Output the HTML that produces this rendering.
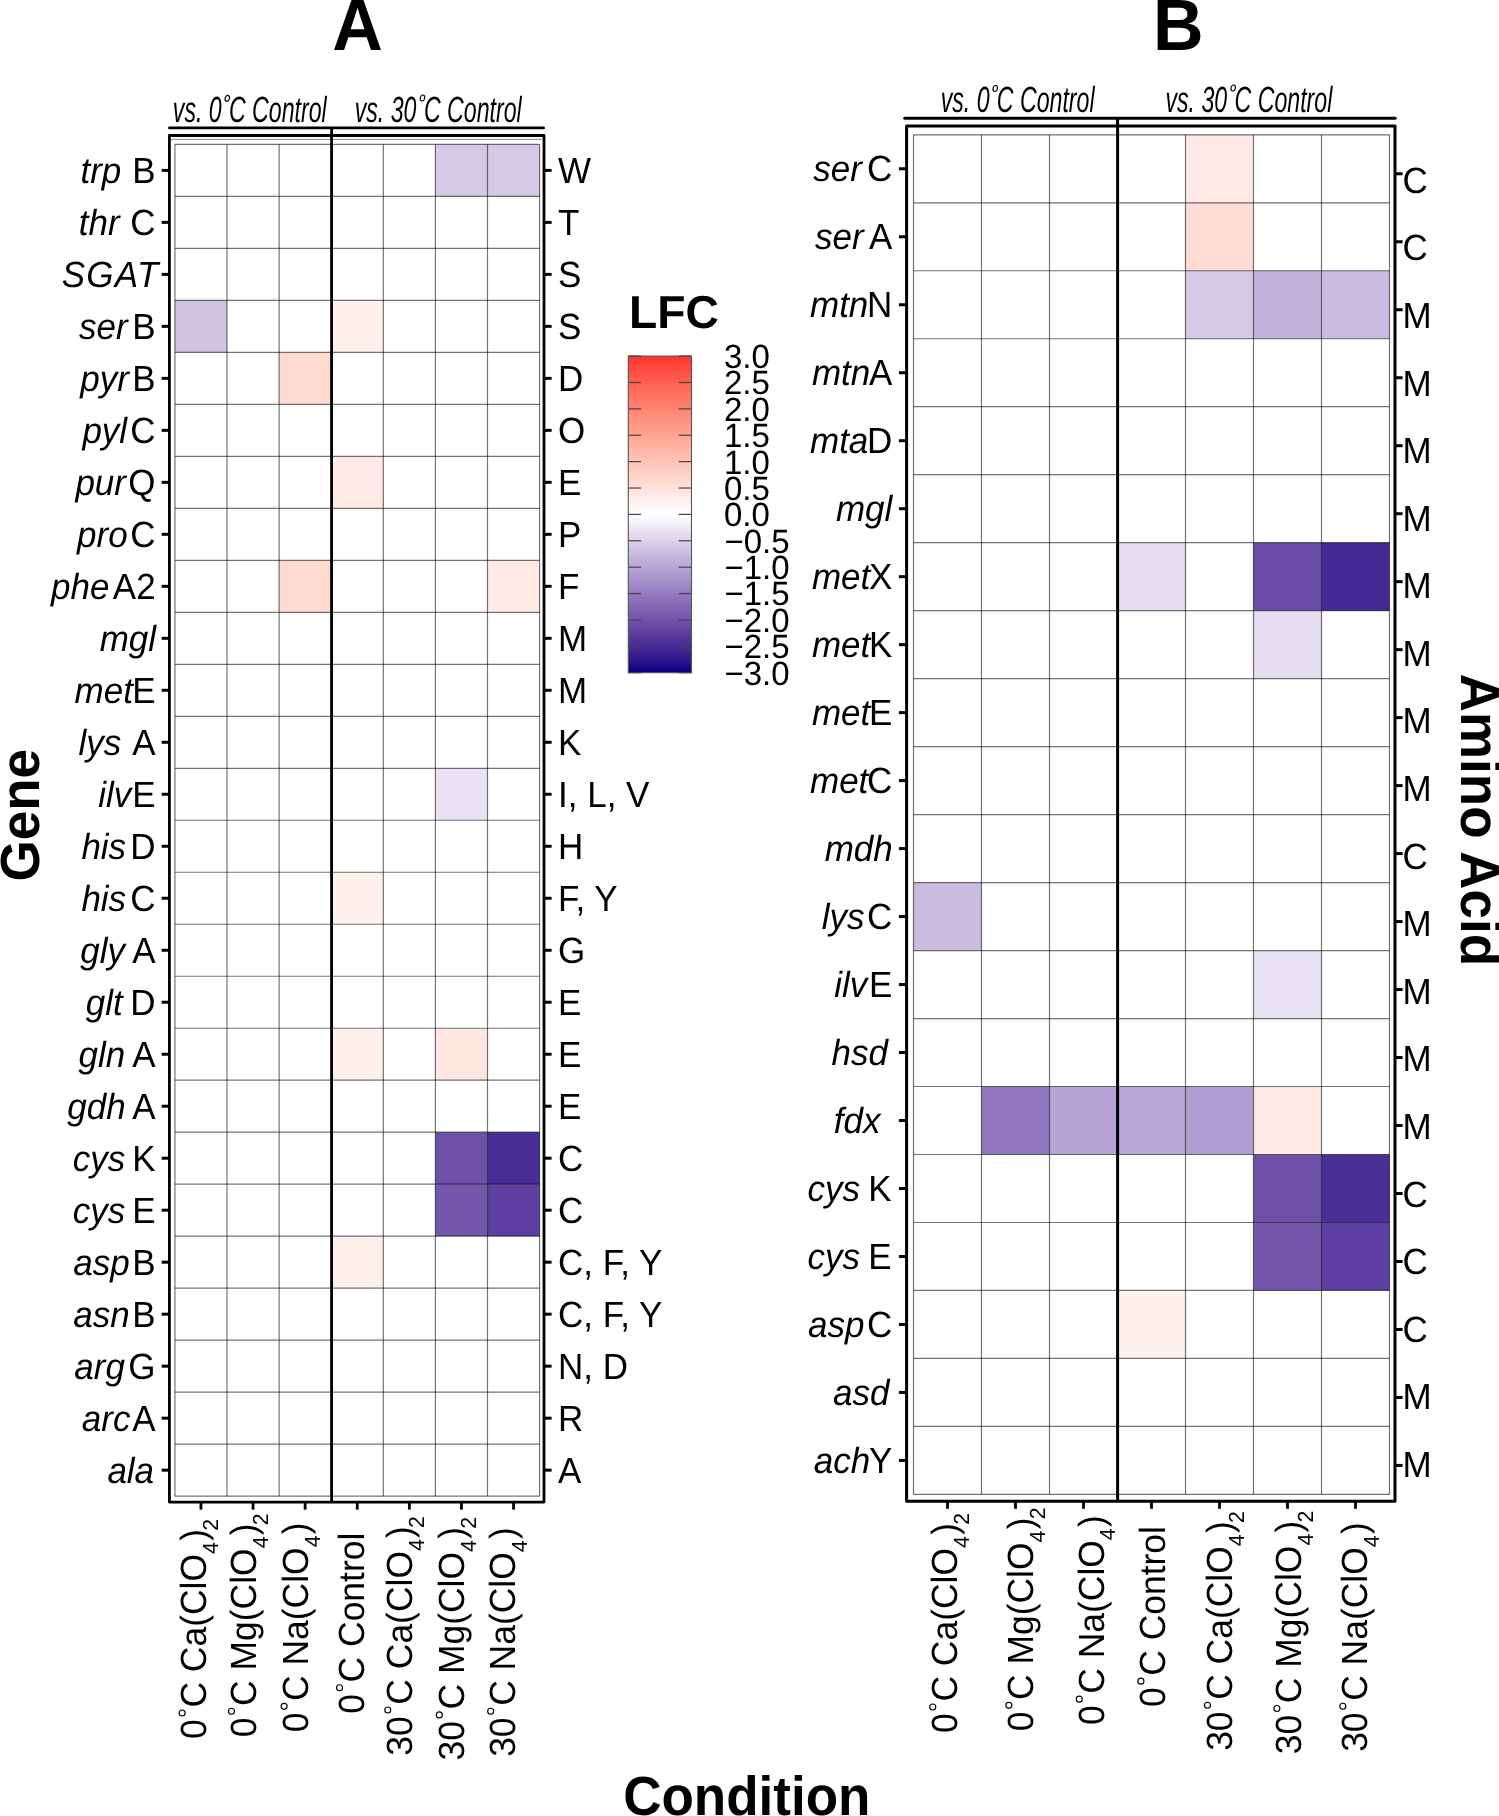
<!DOCTYPE html><html><head><meta charset="utf-8"><style>html,body{margin:0;padding:0;background:#fff;width:1499px;height:1816px;overflow:hidden;}</style></head><body><svg width="1499" height="1816" viewBox="0 0 1499 1816" style="position:absolute;left:0;top:0;will-change:transform;text-rendering:geometricPrecision" font-family='"Liberation Sans", sans-serif'>
<rect width="1499" height="1816" fill="#fff"/>
<rect x="435.40" y="144.40" width="52.10" height="51.99" fill="#d4c9e6"/>
<rect x="487.50" y="144.40" width="52.10" height="51.99" fill="#d4c9e6"/>
<rect x="174.90" y="300.37" width="52.10" height="51.99" fill="#d0c2e3"/>
<rect x="331.20" y="300.37" width="52.10" height="51.99" fill="#fff0ec"/>
<rect x="279.10" y="352.36" width="52.10" height="51.99" fill="#ffdad1"/>
<rect x="331.20" y="456.34" width="52.10" height="51.99" fill="#ffeae5"/>
<rect x="279.10" y="560.32" width="52.10" height="51.99" fill="#ffdad1"/>
<rect x="487.50" y="560.32" width="52.10" height="51.99" fill="#ffeae5"/>
<rect x="435.40" y="768.28" width="52.10" height="51.99" fill="#e8e2f2"/>
<rect x="331.20" y="872.26" width="52.10" height="51.99" fill="#fff1ee"/>
<rect x="331.20" y="1028.23" width="52.10" height="51.99" fill="#fff0ec"/>
<rect x="435.40" y="1028.23" width="52.10" height="51.99" fill="#ffe7e1"/>
<rect x="435.40" y="1132.21" width="52.10" height="51.99" fill="#6d51a9"/>
<rect x="487.50" y="1132.21" width="52.10" height="51.99" fill="#482d96"/>
<rect x="435.40" y="1184.20" width="52.10" height="51.99" fill="#7357ad"/>
<rect x="487.50" y="1184.20" width="52.10" height="51.99" fill="#5c3fa0"/>
<rect x="331.20" y="1236.19" width="52.10" height="51.99" fill="#ffefeb"/>
<path d="M174.90 144.40H539.60M174.90 196.39H539.60M174.90 248.38H539.60M174.90 300.37H539.60M174.90 352.36H539.60M174.90 404.35H539.60M174.90 456.34H539.60M174.90 508.33H539.60M174.90 560.32H539.60M174.90 612.31H539.60M174.90 664.30H539.60M174.90 716.29H539.60M174.90 768.28H539.60M174.90 820.27H539.60M174.90 872.26H539.60M174.90 924.25H539.60M174.90 976.24H539.60M174.90 1028.23H539.60M174.90 1080.22H539.60M174.90 1132.21H539.60M174.90 1184.20H539.60M174.90 1236.19H539.60M174.90 1288.18H539.60M174.90 1340.17H539.60M174.90 1392.16H539.60M174.90 1444.15H539.60M174.90 1496.14H539.60" stroke="#000" stroke-opacity="0.55" stroke-width="1.2" fill="none"/>
<path d="M174.90 144.40V1496.14M227.00 144.40V1496.14M279.10 144.40V1496.14M331.20 144.40V1496.14M383.30 144.40V1496.14M435.40 144.40V1496.14M487.50 144.40V1496.14M539.60 144.40V1496.14" stroke="#000" stroke-opacity="0.55" stroke-width="1.2" fill="none"/>
<line x1="171" y1="139.4" x2="542" y2="139.4" stroke="#8c8c8c" stroke-width="1"/>
<rect x="169.4" y="135.5" width="374.60" height="1366.60" fill="none" stroke="#000" stroke-width="2.8" stroke-linejoin="round"/>
<line x1="169.4" y1="127.9" x2="543.6" y2="127.9" stroke="#000" stroke-width="2.8" stroke-linecap="round"/>
<line x1="331.6" y1="127.9" x2="331.6" y2="1502.1" stroke="#000" stroke-width="2.8"/>
<line x1="161.70" y1="170.40" x2="169.4" y2="170.40" stroke="#000" stroke-width="3.0"/>
<line x1="544.00" y1="170.40" x2="551.60" y2="170.40" stroke="#000" stroke-width="3.0"/>
<line x1="161.70" y1="222.38" x2="169.4" y2="222.38" stroke="#000" stroke-width="3.0"/>
<line x1="544.00" y1="222.38" x2="551.60" y2="222.38" stroke="#000" stroke-width="3.0"/>
<line x1="161.70" y1="274.38" x2="169.4" y2="274.38" stroke="#000" stroke-width="3.0"/>
<line x1="544.00" y1="274.38" x2="551.60" y2="274.38" stroke="#000" stroke-width="3.0"/>
<line x1="161.70" y1="326.37" x2="169.4" y2="326.37" stroke="#000" stroke-width="3.0"/>
<line x1="544.00" y1="326.37" x2="551.60" y2="326.37" stroke="#000" stroke-width="3.0"/>
<line x1="161.70" y1="378.36" x2="169.4" y2="378.36" stroke="#000" stroke-width="3.0"/>
<line x1="544.00" y1="378.36" x2="551.60" y2="378.36" stroke="#000" stroke-width="3.0"/>
<line x1="161.70" y1="430.35" x2="169.4" y2="430.35" stroke="#000" stroke-width="3.0"/>
<line x1="544.00" y1="430.35" x2="551.60" y2="430.35" stroke="#000" stroke-width="3.0"/>
<line x1="161.70" y1="482.34" x2="169.4" y2="482.34" stroke="#000" stroke-width="3.0"/>
<line x1="544.00" y1="482.34" x2="551.60" y2="482.34" stroke="#000" stroke-width="3.0"/>
<line x1="161.70" y1="534.33" x2="169.4" y2="534.33" stroke="#000" stroke-width="3.0"/>
<line x1="544.00" y1="534.33" x2="551.60" y2="534.33" stroke="#000" stroke-width="3.0"/>
<line x1="161.70" y1="586.32" x2="169.4" y2="586.32" stroke="#000" stroke-width="3.0"/>
<line x1="544.00" y1="586.32" x2="551.60" y2="586.32" stroke="#000" stroke-width="3.0"/>
<line x1="161.70" y1="638.31" x2="169.4" y2="638.31" stroke="#000" stroke-width="3.0"/>
<line x1="544.00" y1="638.31" x2="551.60" y2="638.31" stroke="#000" stroke-width="3.0"/>
<line x1="161.70" y1="690.29" x2="169.4" y2="690.29" stroke="#000" stroke-width="3.0"/>
<line x1="544.00" y1="690.29" x2="551.60" y2="690.29" stroke="#000" stroke-width="3.0"/>
<line x1="161.70" y1="742.28" x2="169.4" y2="742.28" stroke="#000" stroke-width="3.0"/>
<line x1="544.00" y1="742.28" x2="551.60" y2="742.28" stroke="#000" stroke-width="3.0"/>
<line x1="161.70" y1="794.27" x2="169.4" y2="794.27" stroke="#000" stroke-width="3.0"/>
<line x1="544.00" y1="794.27" x2="551.60" y2="794.27" stroke="#000" stroke-width="3.0"/>
<line x1="161.70" y1="846.26" x2="169.4" y2="846.26" stroke="#000" stroke-width="3.0"/>
<line x1="544.00" y1="846.26" x2="551.60" y2="846.26" stroke="#000" stroke-width="3.0"/>
<line x1="161.70" y1="898.25" x2="169.4" y2="898.25" stroke="#000" stroke-width="3.0"/>
<line x1="544.00" y1="898.25" x2="551.60" y2="898.25" stroke="#000" stroke-width="3.0"/>
<line x1="161.70" y1="950.25" x2="169.4" y2="950.25" stroke="#000" stroke-width="3.0"/>
<line x1="544.00" y1="950.25" x2="551.60" y2="950.25" stroke="#000" stroke-width="3.0"/>
<line x1="161.70" y1="1002.24" x2="169.4" y2="1002.24" stroke="#000" stroke-width="3.0"/>
<line x1="544.00" y1="1002.24" x2="551.60" y2="1002.24" stroke="#000" stroke-width="3.0"/>
<line x1="161.70" y1="1054.23" x2="169.4" y2="1054.23" stroke="#000" stroke-width="3.0"/>
<line x1="544.00" y1="1054.23" x2="551.60" y2="1054.23" stroke="#000" stroke-width="3.0"/>
<line x1="161.70" y1="1106.22" x2="169.4" y2="1106.22" stroke="#000" stroke-width="3.0"/>
<line x1="544.00" y1="1106.22" x2="551.60" y2="1106.22" stroke="#000" stroke-width="3.0"/>
<line x1="161.70" y1="1158.21" x2="169.4" y2="1158.21" stroke="#000" stroke-width="3.0"/>
<line x1="544.00" y1="1158.21" x2="551.60" y2="1158.21" stroke="#000" stroke-width="3.0"/>
<line x1="161.70" y1="1210.20" x2="169.4" y2="1210.20" stroke="#000" stroke-width="3.0"/>
<line x1="544.00" y1="1210.20" x2="551.60" y2="1210.20" stroke="#000" stroke-width="3.0"/>
<line x1="161.70" y1="1262.19" x2="169.4" y2="1262.19" stroke="#000" stroke-width="3.0"/>
<line x1="544.00" y1="1262.19" x2="551.60" y2="1262.19" stroke="#000" stroke-width="3.0"/>
<line x1="161.70" y1="1314.18" x2="169.4" y2="1314.18" stroke="#000" stroke-width="3.0"/>
<line x1="544.00" y1="1314.18" x2="551.60" y2="1314.18" stroke="#000" stroke-width="3.0"/>
<line x1="161.70" y1="1366.17" x2="169.4" y2="1366.17" stroke="#000" stroke-width="3.0"/>
<line x1="544.00" y1="1366.17" x2="551.60" y2="1366.17" stroke="#000" stroke-width="3.0"/>
<line x1="161.70" y1="1418.16" x2="169.4" y2="1418.16" stroke="#000" stroke-width="3.0"/>
<line x1="544.00" y1="1418.16" x2="551.60" y2="1418.16" stroke="#000" stroke-width="3.0"/>
<line x1="161.70" y1="1470.15" x2="169.4" y2="1470.15" stroke="#000" stroke-width="3.0"/>
<line x1="544.00" y1="1470.15" x2="551.60" y2="1470.15" stroke="#000" stroke-width="3.0"/>
<line x1="200.95" y1="1502.1" x2="200.95" y2="1509.60" stroke="#000" stroke-width="2.8"/>
<line x1="253.05" y1="1502.1" x2="253.05" y2="1509.60" stroke="#000" stroke-width="2.8"/>
<line x1="305.15" y1="1502.1" x2="305.15" y2="1509.60" stroke="#000" stroke-width="2.8"/>
<line x1="357.25" y1="1502.1" x2="357.25" y2="1509.60" stroke="#000" stroke-width="2.8"/>
<line x1="409.35" y1="1502.1" x2="409.35" y2="1509.60" stroke="#000" stroke-width="2.8"/>
<line x1="461.45" y1="1502.1" x2="461.45" y2="1509.60" stroke="#000" stroke-width="2.8"/>
<line x1="513.55" y1="1502.1" x2="513.55" y2="1509.60" stroke="#000" stroke-width="2.8"/>
<text transform="translate(155.60,182.92) scale(1,1.04)" font-size="35.0" text-anchor="end"><tspan font-style="italic">trp</tspan><tspan dx="10.9">B</tspan></text>
<text transform="translate(155.60,234.91) scale(1,1.04)" font-size="35.0" text-anchor="end"><tspan font-style="italic">thr</tspan><tspan dx="10.7">C</tspan></text>
<text transform="translate(159.60,286.90) scale(1,1.04)" font-size="35.0" text-anchor="end"><tspan font-style="italic" letter-spacing="1.3">SGAT</tspan></text>
<text transform="translate(155.60,338.89) scale(1,1.04)" font-size="35.0" text-anchor="end"><tspan font-style="italic">ser</tspan><tspan dx="4.6">B</tspan></text>
<text transform="translate(155.60,390.88) scale(1,1.04)" font-size="35.0" text-anchor="end"><tspan font-style="italic">pyr</tspan><tspan dx="3.3">B</tspan></text>
<text transform="translate(155.60,442.87) scale(1,1.04)" font-size="35.0" text-anchor="end"><tspan font-style="italic">pyl</tspan><tspan dx="3.2">C</tspan></text>
<text transform="translate(155.60,494.86) scale(1,1.04)" font-size="35.0" text-anchor="end"><tspan font-style="italic">pur</tspan><tspan dx="2.4">Q</tspan></text>
<text transform="translate(155.60,546.85) scale(1,1.04)" font-size="35.0" text-anchor="end"><tspan font-style="italic">pro</tspan><tspan dx="2.7">C</tspan></text>
<text transform="translate(155.60,598.84) scale(1,1.04)" font-size="35.0" text-anchor="end"><tspan font-style="italic">phe</tspan><tspan dx="3.4">A2</tspan></text>
<text transform="translate(156.10,650.83) scale(1,1.04)" font-size="35.0" text-anchor="end"><tspan font-style="italic">mgl</tspan></text>
<text transform="translate(155.60,702.82) scale(1,1.04)" font-size="35.0" text-anchor="end"><tspan font-style="italic">met</tspan><tspan dx="-0.7">E</tspan></text>
<text transform="translate(155.60,754.81) scale(1,1.04)" font-size="35.0" text-anchor="end"><tspan font-style="italic">lys</tspan><tspan dx="11.0">A</tspan></text>
<text transform="translate(155.60,806.80) scale(1,1.04)" font-size="35.0" text-anchor="end"><tspan font-style="italic">ilv</tspan><tspan dx="0.9">E</tspan></text>
<text transform="translate(155.60,858.79) scale(1,1.04)" font-size="35.0" text-anchor="end"><tspan font-style="italic">his</tspan><tspan dx="4.2">D</tspan></text>
<text transform="translate(155.60,910.78) scale(1,1.04)" font-size="35.0" text-anchor="end"><tspan font-style="italic">his</tspan><tspan dx="4.2">C</tspan></text>
<text transform="translate(155.60,962.77) scale(1,1.04)" font-size="35.0" text-anchor="end"><tspan font-style="italic">gly</tspan><tspan dx="7.3">A</tspan></text>
<text transform="translate(155.60,1014.76) scale(1,1.04)" font-size="35.0" text-anchor="end"><tspan font-style="italic">glt</tspan><tspan dx="7.5">D</tspan></text>
<text transform="translate(155.60,1066.75) scale(1,1.04)" font-size="35.0" text-anchor="end"><tspan font-style="italic">gln</tspan><tspan dx="7.0">A</tspan></text>
<text transform="translate(155.60,1118.74) scale(1,1.04)" font-size="35.0" text-anchor="end"><tspan font-style="italic">gdh</tspan><tspan dx="6.5">A</tspan></text>
<text transform="translate(155.60,1170.73) scale(1,1.04)" font-size="35.0" text-anchor="end"><tspan font-style="italic">cys</tspan><tspan dx="7.1">K</tspan></text>
<text transform="translate(155.60,1222.72) scale(1,1.04)" font-size="35.0" text-anchor="end"><tspan font-style="italic">cys</tspan><tspan dx="7.1">E</tspan></text>
<text transform="translate(155.60,1274.71) scale(1,1.04)" font-size="35.0" text-anchor="end"><tspan font-style="italic">asp</tspan><tspan dx="2.6">B</tspan></text>
<text transform="translate(155.60,1326.70) scale(1,1.04)" font-size="35.0" text-anchor="end"><tspan font-style="italic">asn</tspan><tspan dx="2.6">B</tspan></text>
<text transform="translate(155.60,1378.69) scale(1,1.04)" font-size="35.0" text-anchor="end"><tspan font-style="italic">arg</tspan><tspan dx="3.5">G</tspan></text>
<text transform="translate(155.60,1430.68) scale(1,1.04)" font-size="35.0" text-anchor="end"><tspan font-style="italic">arc</tspan><tspan dx="1.8">A</tspan></text>
<text transform="translate(154.10,1482.67) scale(1,1.04)" font-size="35.0" text-anchor="end"><tspan font-style="italic">ala</tspan></text>
<text transform="translate(558.00,182.92) scale(1,1.04)" font-size="35.0">W</text>
<text transform="translate(558.00,234.91) scale(1,1.04)" font-size="35.0">T</text>
<text transform="translate(558.00,286.90) scale(1,1.04)" font-size="35.0">S</text>
<text transform="translate(558.00,338.89) scale(1,1.04)" font-size="35.0">S</text>
<text transform="translate(558.00,390.88) scale(1,1.04)" font-size="35.0">D</text>
<text transform="translate(558.00,442.87) scale(1,1.04)" font-size="35.0">O</text>
<text transform="translate(558.00,494.86) scale(1,1.04)" font-size="35.0">E</text>
<text transform="translate(558.00,546.85) scale(1,1.04)" font-size="35.0">P</text>
<text transform="translate(558.00,598.84) scale(1,1.04)" font-size="35.0">F</text>
<text transform="translate(558.00,650.83) scale(1,1.04)" font-size="35.0">M</text>
<text transform="translate(558.00,702.82) scale(1,1.04)" font-size="35.0">M</text>
<text transform="translate(558.00,754.81) scale(1,1.04)" font-size="35.0">K</text>
<text transform="translate(558.00,806.80) scale(1,1.04)" font-size="35.0">I, L, V</text>
<text transform="translate(558.00,858.79) scale(1,1.04)" font-size="35.0">H</text>
<text transform="translate(558.00,910.78) scale(1,1.04)" font-size="35.0">F, Y</text>
<text transform="translate(558.00,962.77) scale(1,1.04)" font-size="35.0">G</text>
<text transform="translate(558.00,1014.76) scale(1,1.04)" font-size="35.0">E</text>
<text transform="translate(558.00,1066.75) scale(1,1.04)" font-size="35.0">E</text>
<text transform="translate(558.00,1118.74) scale(1,1.04)" font-size="35.0">E</text>
<text transform="translate(558.00,1170.73) scale(1,1.04)" font-size="35.0">C</text>
<text transform="translate(558.00,1222.72) scale(1,1.04)" font-size="35.0">C</text>
<text transform="translate(558.00,1274.71) scale(1,1.04)" font-size="35.0">C, F, Y</text>
<text transform="translate(558.00,1326.70) scale(1,1.04)" font-size="35.0">C, F, Y</text>
<text transform="translate(558.00,1378.69) scale(1,1.04)" font-size="35.0">N, D</text>
<text transform="translate(558.00,1430.68) scale(1,1.04)" font-size="35.0">R</text>
<text transform="translate(558.00,1482.67) scale(1,1.04)" font-size="35.0">A</text>
<rect x="1185.50" y="134.80" width="68.00" height="67.98" fill="#ffeae5"/>
<rect x="1185.50" y="202.78" width="68.00" height="67.98" fill="#ffdcd4"/>
<rect x="1185.50" y="270.76" width="68.00" height="67.98" fill="#d4c9e6"/>
<rect x="1253.50" y="270.76" width="68.00" height="67.98" fill="#c1b1db"/>
<rect x="1321.50" y="270.76" width="68.00" height="67.98" fill="#cabbe0"/>
<rect x="1117.50" y="542.68" width="68.00" height="67.98" fill="#e5ddf0"/>
<rect x="1253.50" y="542.68" width="68.00" height="67.98" fill="#6a4da8"/>
<rect x="1321.50" y="542.68" width="68.00" height="67.98" fill="#442994"/>
<rect x="1253.50" y="610.66" width="68.00" height="67.98" fill="#e5ddf0"/>
<rect x="913.50" y="882.58" width="68.00" height="67.98" fill="#cabbe0"/>
<rect x="1253.50" y="950.56" width="68.00" height="67.98" fill="#e8e1f1"/>
<rect x="981.50" y="1086.52" width="68.00" height="67.98" fill="#9177be"/>
<rect x="1049.50" y="1086.52" width="68.00" height="67.98" fill="#b6a3d4"/>
<rect x="1117.50" y="1086.52" width="68.00" height="67.98" fill="#b8a6d5"/>
<rect x="1185.50" y="1086.52" width="68.00" height="67.98" fill="#b19dd1"/>
<rect x="1253.50" y="1086.52" width="68.00" height="67.98" fill="#ffeae5"/>
<rect x="1253.50" y="1154.50" width="68.00" height="67.98" fill="#6d51a9"/>
<rect x="1321.50" y="1154.50" width="68.00" height="67.98" fill="#4a2f97"/>
<rect x="1253.50" y="1222.48" width="68.00" height="67.98" fill="#7357ad"/>
<rect x="1321.50" y="1222.48" width="68.00" height="67.98" fill="#5c3fa0"/>
<rect x="1117.50" y="1290.46" width="68.00" height="67.98" fill="#fff1ee"/>
<path d="M913.50 134.80H1389.50M913.50 202.78H1389.50M913.50 270.76H1389.50M913.50 338.74H1389.50M913.50 406.72H1389.50M913.50 474.70H1389.50M913.50 542.68H1389.50M913.50 610.66H1389.50M913.50 678.64H1389.50M913.50 746.62H1389.50M913.50 814.60H1389.50M913.50 882.58H1389.50M913.50 950.56H1389.50M913.50 1018.54H1389.50M913.50 1086.52H1389.50M913.50 1154.50H1389.50M913.50 1222.48H1389.50M913.50 1290.46H1389.50M913.50 1358.44H1389.50M913.50 1426.42H1389.50M913.50 1494.40H1389.50" stroke="#000" stroke-opacity="0.55" stroke-width="1.2" fill="none"/>
<path d="M913.50 134.80V1494.40M981.50 134.80V1494.40M1049.50 134.80V1494.40M1117.50 134.80V1494.40M1185.50 134.80V1494.40M1253.50 134.80V1494.40M1321.50 134.80V1494.40M1389.50 134.80V1494.40" stroke="#000" stroke-opacity="0.55" stroke-width="1.2" fill="none"/>
<rect x="906.6" y="125.9" width="488.40" height="1375.40" fill="none" stroke="#000" stroke-width="3.0" stroke-linejoin="round"/>
<line x1="904.8" y1="118.2" x2="1395.2" y2="118.2" stroke="#000" stroke-width="3.0" stroke-linecap="round"/>
<line x1="1117.6" y1="118.2" x2="1117.6" y2="1501.3" stroke="#000" stroke-width="3.0"/>
<line x1="898.90" y1="168.79" x2="906.6" y2="168.79" stroke="#000" stroke-width="3.0"/>
<line x1="1395.00" y1="173.79" x2="1402.60" y2="173.79" stroke="#000" stroke-width="3.0"/>
<line x1="898.90" y1="236.77" x2="906.6" y2="236.77" stroke="#000" stroke-width="3.0"/>
<line x1="1395.00" y1="241.77" x2="1402.60" y2="241.77" stroke="#000" stroke-width="3.0"/>
<line x1="898.90" y1="304.75" x2="906.6" y2="304.75" stroke="#000" stroke-width="3.0"/>
<line x1="1395.00" y1="309.75" x2="1402.60" y2="309.75" stroke="#000" stroke-width="3.0"/>
<line x1="898.90" y1="372.73" x2="906.6" y2="372.73" stroke="#000" stroke-width="3.0"/>
<line x1="1395.00" y1="377.73" x2="1402.60" y2="377.73" stroke="#000" stroke-width="3.0"/>
<line x1="898.90" y1="440.71" x2="906.6" y2="440.71" stroke="#000" stroke-width="3.0"/>
<line x1="1395.00" y1="445.71" x2="1402.60" y2="445.71" stroke="#000" stroke-width="3.0"/>
<line x1="898.90" y1="508.69" x2="906.6" y2="508.69" stroke="#000" stroke-width="3.0"/>
<line x1="1395.00" y1="513.69" x2="1402.60" y2="513.69" stroke="#000" stroke-width="3.0"/>
<line x1="898.90" y1="576.67" x2="906.6" y2="576.67" stroke="#000" stroke-width="3.0"/>
<line x1="1395.00" y1="581.67" x2="1402.60" y2="581.67" stroke="#000" stroke-width="3.0"/>
<line x1="898.90" y1="644.65" x2="906.6" y2="644.65" stroke="#000" stroke-width="3.0"/>
<line x1="1395.00" y1="649.65" x2="1402.60" y2="649.65" stroke="#000" stroke-width="3.0"/>
<line x1="898.90" y1="712.63" x2="906.6" y2="712.63" stroke="#000" stroke-width="3.0"/>
<line x1="1395.00" y1="717.63" x2="1402.60" y2="717.63" stroke="#000" stroke-width="3.0"/>
<line x1="898.90" y1="780.61" x2="906.6" y2="780.61" stroke="#000" stroke-width="3.0"/>
<line x1="1395.00" y1="785.61" x2="1402.60" y2="785.61" stroke="#000" stroke-width="3.0"/>
<line x1="898.90" y1="848.59" x2="906.6" y2="848.59" stroke="#000" stroke-width="3.0"/>
<line x1="1395.00" y1="853.59" x2="1402.60" y2="853.59" stroke="#000" stroke-width="3.0"/>
<line x1="898.90" y1="916.57" x2="906.6" y2="916.57" stroke="#000" stroke-width="3.0"/>
<line x1="1395.00" y1="921.57" x2="1402.60" y2="921.57" stroke="#000" stroke-width="3.0"/>
<line x1="898.90" y1="984.55" x2="906.6" y2="984.55" stroke="#000" stroke-width="3.0"/>
<line x1="1395.00" y1="989.55" x2="1402.60" y2="989.55" stroke="#000" stroke-width="3.0"/>
<line x1="898.90" y1="1052.53" x2="906.6" y2="1052.53" stroke="#000" stroke-width="3.0"/>
<line x1="1395.00" y1="1057.53" x2="1402.60" y2="1057.53" stroke="#000" stroke-width="3.0"/>
<line x1="898.90" y1="1120.51" x2="906.6" y2="1120.51" stroke="#000" stroke-width="3.0"/>
<line x1="1395.00" y1="1125.51" x2="1402.60" y2="1125.51" stroke="#000" stroke-width="3.0"/>
<line x1="898.90" y1="1188.49" x2="906.6" y2="1188.49" stroke="#000" stroke-width="3.0"/>
<line x1="1395.00" y1="1193.49" x2="1402.60" y2="1193.49" stroke="#000" stroke-width="3.0"/>
<line x1="898.90" y1="1256.47" x2="906.6" y2="1256.47" stroke="#000" stroke-width="3.0"/>
<line x1="1395.00" y1="1261.47" x2="1402.60" y2="1261.47" stroke="#000" stroke-width="3.0"/>
<line x1="898.90" y1="1324.45" x2="906.6" y2="1324.45" stroke="#000" stroke-width="3.0"/>
<line x1="1395.00" y1="1329.45" x2="1402.60" y2="1329.45" stroke="#000" stroke-width="3.0"/>
<line x1="898.90" y1="1392.43" x2="906.6" y2="1392.43" stroke="#000" stroke-width="3.0"/>
<line x1="1395.00" y1="1397.43" x2="1402.60" y2="1397.43" stroke="#000" stroke-width="3.0"/>
<line x1="898.90" y1="1460.41" x2="906.6" y2="1460.41" stroke="#000" stroke-width="3.0"/>
<line x1="1395.00" y1="1465.41" x2="1402.60" y2="1465.41" stroke="#000" stroke-width="3.0"/>
<line x1="947.50" y1="1501.3" x2="947.50" y2="1508.80" stroke="#000" stroke-width="2.8"/>
<line x1="1015.50" y1="1501.3" x2="1015.50" y2="1508.80" stroke="#000" stroke-width="2.8"/>
<line x1="1083.50" y1="1501.3" x2="1083.50" y2="1508.80" stroke="#000" stroke-width="2.8"/>
<line x1="1151.50" y1="1501.3" x2="1151.50" y2="1508.80" stroke="#000" stroke-width="2.8"/>
<line x1="1219.50" y1="1501.3" x2="1219.50" y2="1508.80" stroke="#000" stroke-width="2.8"/>
<line x1="1287.50" y1="1501.3" x2="1287.50" y2="1508.80" stroke="#000" stroke-width="2.8"/>
<line x1="1355.50" y1="1501.3" x2="1355.50" y2="1508.80" stroke="#000" stroke-width="2.8"/>
<text transform="translate(892.30,181.31) scale(1,1.04)" font-size="35.0" text-anchor="end"><tspan font-style="italic">ser</tspan><tspan dx="5.1">C</tspan></text>
<text transform="translate(892.30,249.29) scale(1,1.04)" font-size="35.0" text-anchor="end"><tspan font-style="italic">ser</tspan><tspan dx="5.3">A</tspan></text>
<text transform="translate(892.30,317.27) scale(1,1.04)" font-size="35.0" text-anchor="end"><tspan font-style="italic">mtn</tspan><tspan dx="-1.3">N</tspan></text>
<text transform="translate(892.30,385.25) scale(1,1.04)" font-size="35.0" text-anchor="end"><tspan font-style="italic">mtn</tspan><tspan dx="-1.3">A</tspan></text>
<text transform="translate(892.30,453.23) scale(1,1.04)" font-size="35.0" text-anchor="end"><tspan font-style="italic">mta</tspan><tspan dx="-1.3">D</tspan></text>
<text transform="translate(892.30,521.21) scale(1,1.04)" font-size="35.0" text-anchor="end"><tspan font-style="italic">mgl</tspan></text>
<text transform="translate(892.30,589.19) scale(1,1.04)" font-size="35.0" text-anchor="end"><tspan font-style="italic">met</tspan><tspan dx="-1.3">X</tspan></text>
<text transform="translate(892.30,657.17) scale(1,1.04)" font-size="35.0" text-anchor="end"><tspan font-style="italic">met</tspan><tspan dx="-1.3">K</tspan></text>
<text transform="translate(892.30,725.15) scale(1,1.04)" font-size="35.0" text-anchor="end"><tspan font-style="italic">met</tspan><tspan dx="-1.3">E</tspan></text>
<text transform="translate(892.30,793.13) scale(1,1.04)" font-size="35.0" text-anchor="end"><tspan font-style="italic">met</tspan><tspan dx="-1.3">C</tspan></text>
<text transform="translate(892.80,861.11) scale(1,1.04)" font-size="35.0" text-anchor="end"><tspan font-style="italic">mdh</tspan></text>
<text transform="translate(892.30,929.09) scale(1,1.04)" font-size="35.0" text-anchor="end"><tspan font-style="italic">lys</tspan><tspan dx="2.5">C</tspan></text>
<text transform="translate(892.30,997.07) scale(1,1.04)" font-size="35.0" text-anchor="end"><tspan font-style="italic">ilv</tspan><tspan dx="1.6">E</tspan></text>
<text transform="translate(888.00,1065.05) scale(1,1.04)" font-size="35.0" text-anchor="end"><tspan font-style="italic">hsd</tspan></text>
<text transform="translate(880.50,1133.03) scale(1,1.04)" font-size="35.0" text-anchor="end"><tspan font-style="italic">fdx</tspan></text>
<text transform="translate(891.50,1201.01) scale(1,1.04)" font-size="35.0" text-anchor="end"><tspan font-style="italic">cys</tspan><tspan dx="8.2">K</tspan></text>
<text transform="translate(891.50,1268.99) scale(1,1.04)" font-size="35.0" text-anchor="end"><tspan font-style="italic">cys</tspan><tspan dx="8.2">E</tspan></text>
<text transform="translate(892.30,1336.97) scale(1,1.04)" font-size="35.0" text-anchor="end"><tspan font-style="italic">asp</tspan><tspan dx="2.6">C</tspan></text>
<text transform="translate(889.50,1404.95) scale(1,1.04)" font-size="35.0" text-anchor="end"><tspan font-style="italic">asd</tspan></text>
<text transform="translate(892.30,1472.93) scale(1,1.04)" font-size="35.0" text-anchor="end"><tspan font-style="italic">ach</tspan><tspan dx="-1.3">Y</tspan></text>
<text transform="translate(1402.40,192.72) scale(1,1.04)" font-size="35.0">C</text>
<text transform="translate(1402.40,260.32) scale(1,1.04)" font-size="35.0">C</text>
<text transform="translate(1402.40,327.91) scale(1,1.04)" font-size="35.0">M</text>
<text transform="translate(1402.40,395.51) scale(1,1.04)" font-size="35.0">M</text>
<text transform="translate(1402.40,463.10) scale(1,1.04)" font-size="35.0">M</text>
<text transform="translate(1402.40,530.70) scale(1,1.04)" font-size="35.0">M</text>
<text transform="translate(1402.40,598.29) scale(1,1.04)" font-size="35.0">M</text>
<text transform="translate(1402.40,665.88) scale(1,1.04)" font-size="35.0">M</text>
<text transform="translate(1402.40,733.48) scale(1,1.04)" font-size="35.0">M</text>
<text transform="translate(1402.40,801.07) scale(1,1.04)" font-size="35.0">M</text>
<text transform="translate(1402.40,868.67) scale(1,1.04)" font-size="35.0">C</text>
<text transform="translate(1402.40,936.26) scale(1,1.04)" font-size="35.0">M</text>
<text transform="translate(1402.40,1003.86) scale(1,1.04)" font-size="35.0">M</text>
<text transform="translate(1402.40,1071.45) scale(1,1.04)" font-size="35.0">M</text>
<text transform="translate(1402.40,1139.05) scale(1,1.04)" font-size="35.0">M</text>
<text transform="translate(1402.40,1206.64) scale(1,1.04)" font-size="35.0">C</text>
<text transform="translate(1402.40,1274.24) scale(1,1.04)" font-size="35.0">C</text>
<text transform="translate(1402.40,1341.83) scale(1,1.04)" font-size="35.0">C</text>
<text transform="translate(1402.40,1409.43) scale(1,1.04)" font-size="35.0">M</text>
<text transform="translate(1402.40,1477.02) scale(1,1.04)" font-size="35.0">M</text>
<text transform="translate(172.83,122.3) scale(0.661,1.04)" font-size="35.0" font-style="italic">vs. 0</text>
<text transform="translate(228.92,122.3) scale(0.661,1.04)" font-size="35.0" font-style="italic">C Control</text>
<ellipse cx="0" cy="0" rx="2.15" ry="3.05" transform="translate(227.30,98.40) rotate(15)" fill="none" stroke="#000" stroke-width="1.15"/>
<text transform="translate(354.73,122.0) scale(0.661,1.04)" font-size="35.0" font-style="italic">vs. 30</text>
<text transform="translate(423.92,122.0) scale(0.661,1.04)" font-size="35.0" font-style="italic">C Control</text>
<ellipse cx="0" cy="0" rx="2.15" ry="3.05" transform="translate(422.50,98.00) rotate(15)" fill="none" stroke="#000" stroke-width="1.15"/>
<text transform="translate(940.73,112.4) scale(0.661,1.04)" font-size="35.0" font-style="italic">vs. 0</text>
<text transform="translate(996.82,112.4) scale(0.661,1.04)" font-size="35.0" font-style="italic">C Control</text>
<ellipse cx="0" cy="0" rx="2.15" ry="3.05" transform="translate(995.20,88.50) rotate(15)" fill="none" stroke="#000" stroke-width="1.15"/>
<text transform="translate(1165.43,112.0) scale(0.661,1.04)" font-size="35.0" font-style="italic">vs. 30</text>
<text transform="translate(1234.62,112.0) scale(0.661,1.04)" font-size="35.0" font-style="italic">C Control</text>
<ellipse cx="0" cy="0" rx="2.15" ry="3.05" transform="translate(1233.20,88.00) rotate(15)" fill="none" stroke="#000" stroke-width="1.15"/>
<text transform="translate(357.50,50.00) scale(1,1.04)" font-size="70" text-anchor="middle" font-weight="bold">A</text>
<text transform="translate(1178.20,50.00) scale(1,1.04)" font-size="70" text-anchor="middle" font-weight="bold">B</text>
<text transform="translate(39.00,815.20) rotate(-90) scale(1,1.04)" font-size="53" text-anchor="middle" font-weight="bold">Gene</text>
<text transform="translate(1461.10,819.90) rotate(90) scale(1,1.04)" font-size="53" text-anchor="middle" font-weight="bold">Amino Acid</text>
<text transform="translate(746.80,1814.70) scale(1,1.04)" font-size="53" text-anchor="middle" font-weight="bold">Condition</text>
<text transform="translate(629.00,328.30) scale(1,1.0)" font-size="46.2" font-weight="bold">LFC</text>
<defs><linearGradient id="lg" x1="0" y1="0" x2="0" y2="1">
<stop offset="0.0000" stop-color="#ff3030"/>
<stop offset="0.0167" stop-color="#ff3c36"/>
<stop offset="0.0333" stop-color="#ff463d"/>
<stop offset="0.0500" stop-color="#ff4f43"/>
<stop offset="0.0667" stop-color="#ff584a"/>
<stop offset="0.0833" stop-color="#ff6050"/>
<stop offset="0.1000" stop-color="#ff6856"/>
<stop offset="0.1167" stop-color="#ff6f5d"/>
<stop offset="0.1333" stop-color="#ff7664"/>
<stop offset="0.1500" stop-color="#ff7d6a"/>
<stop offset="0.1667" stop-color="#ff8471"/>
<stop offset="0.1833" stop-color="#ff8b78"/>
<stop offset="0.2000" stop-color="#ff917e"/>
<stop offset="0.2167" stop-color="#ff9885"/>
<stop offset="0.2333" stop-color="#ff9e8c"/>
<stop offset="0.2500" stop-color="#ffa493"/>
<stop offset="0.2667" stop-color="#ffaa9a"/>
<stop offset="0.2833" stop-color="#ffb1a1"/>
<stop offset="0.3000" stop-color="#ffb7a8"/>
<stop offset="0.3167" stop-color="#ffbdaf"/>
<stop offset="0.3333" stop-color="#ffc3b6"/>
<stop offset="0.3500" stop-color="#ffc9bd"/>
<stop offset="0.3667" stop-color="#ffcfc4"/>
<stop offset="0.3833" stop-color="#ffd5cb"/>
<stop offset="0.4000" stop-color="#ffdbd3"/>
<stop offset="0.4167" stop-color="#ffe1da"/>
<stop offset="0.4333" stop-color="#ffe7e1"/>
<stop offset="0.4500" stop-color="#ffede9"/>
<stop offset="0.4667" stop-color="#fff3f0"/>
<stop offset="0.4833" stop-color="#fff9f8"/>
<stop offset="0.5000" stop-color="#ffffff"/>
<stop offset="0.5167" stop-color="#f8f6fb"/>
<stop offset="0.5333" stop-color="#f1edf7"/>
<stop offset="0.5500" stop-color="#eae4f2"/>
<stop offset="0.5667" stop-color="#e3dbee"/>
<stop offset="0.5833" stop-color="#dcd2ea"/>
<stop offset="0.6000" stop-color="#d4c9e6"/>
<stop offset="0.6167" stop-color="#cdc0e2"/>
<stop offset="0.6333" stop-color="#c6b7dd"/>
<stop offset="0.6500" stop-color="#bfaed9"/>
<stop offset="0.6667" stop-color="#b8a6d5"/>
<stop offset="0.6833" stop-color="#b19dd1"/>
<stop offset="0.7000" stop-color="#aa95cd"/>
<stop offset="0.7167" stop-color="#a38cc8"/>
<stop offset="0.7333" stop-color="#9b84c4"/>
<stop offset="0.7500" stop-color="#947bc0"/>
<stop offset="0.7667" stop-color="#8d73bc"/>
<stop offset="0.7833" stop-color="#866bb7"/>
<stop offset="0.8000" stop-color="#7e63b3"/>
<stop offset="0.8167" stop-color="#775baf"/>
<stop offset="0.8333" stop-color="#6f53ab"/>
<stop offset="0.8500" stop-color="#674ba6"/>
<stop offset="0.8667" stop-color="#6043a2"/>
<stop offset="0.8833" stop-color="#573b9e"/>
<stop offset="0.9000" stop-color="#4f339a"/>
<stop offset="0.9167" stop-color="#462c95"/>
<stop offset="0.9333" stop-color="#3d2491"/>
<stop offset="0.9500" stop-color="#331b8d"/>
<stop offset="0.9667" stop-color="#281389"/>
<stop offset="0.9833" stop-color="#190984"/>
<stop offset="1.0000" stop-color="#000080"/>
</linearGradient></defs>
<rect x="628.3" y="356.1" width="63.20" height="316.60" fill="url(#lg)" stroke="#555" stroke-width="1.1"/>
<line x1="628.3" y1="356.10" x2="641.0999999999999" y2="356.10" stroke="#444" stroke-width="1.2"/>
<line x1="678.7" y1="356.10" x2="691.5" y2="356.10" stroke="#444" stroke-width="1.2"/>
<text transform="translate(723.91,368.02) scale(1,1.02)" font-size="33.0">3.0</text>
<line x1="628.3" y1="382.48" x2="641.0999999999999" y2="382.48" stroke="#444" stroke-width="1.2"/>
<line x1="678.7" y1="382.48" x2="691.5" y2="382.48" stroke="#444" stroke-width="1.2"/>
<text transform="translate(723.91,394.40) scale(1,1.02)" font-size="33.0">2.5</text>
<line x1="628.3" y1="408.87" x2="641.0999999999999" y2="408.87" stroke="#444" stroke-width="1.2"/>
<line x1="678.7" y1="408.87" x2="691.5" y2="408.87" stroke="#444" stroke-width="1.2"/>
<text transform="translate(723.91,420.78) scale(1,1.02)" font-size="33.0">2.0</text>
<line x1="628.3" y1="435.25" x2="641.0999999999999" y2="435.25" stroke="#444" stroke-width="1.2"/>
<line x1="678.7" y1="435.25" x2="691.5" y2="435.25" stroke="#444" stroke-width="1.2"/>
<text transform="translate(723.91,447.17) scale(1,1.02)" font-size="33.0">1.5</text>
<line x1="628.3" y1="461.63" x2="641.0999999999999" y2="461.63" stroke="#444" stroke-width="1.2"/>
<line x1="678.7" y1="461.63" x2="691.5" y2="461.63" stroke="#444" stroke-width="1.2"/>
<text transform="translate(723.91,473.55) scale(1,1.02)" font-size="33.0">1.0</text>
<line x1="628.3" y1="488.02" x2="641.0999999999999" y2="488.02" stroke="#444" stroke-width="1.2"/>
<line x1="678.7" y1="488.02" x2="691.5" y2="488.02" stroke="#444" stroke-width="1.2"/>
<text transform="translate(723.91,499.93) scale(1,1.02)" font-size="33.0">0.5</text>
<line x1="628.3" y1="514.40" x2="641.0999999999999" y2="514.40" stroke="#444" stroke-width="1.2"/>
<line x1="678.7" y1="514.40" x2="691.5" y2="514.40" stroke="#444" stroke-width="1.2"/>
<text transform="translate(723.91,526.32) scale(1,1.02)" font-size="33.0">0.0</text>
<line x1="628.3" y1="540.78" x2="641.0999999999999" y2="540.78" stroke="#444" stroke-width="1.2"/>
<line x1="678.7" y1="540.78" x2="691.5" y2="540.78" stroke="#444" stroke-width="1.2"/>
<text transform="translate(724.38,552.70) scale(1,1.02)" font-size="33.0">−0.5</text>
<line x1="628.3" y1="567.17" x2="641.0999999999999" y2="567.17" stroke="#444" stroke-width="1.2"/>
<line x1="678.7" y1="567.17" x2="691.5" y2="567.17" stroke="#444" stroke-width="1.2"/>
<text transform="translate(724.38,579.08) scale(1,1.02)" font-size="33.0">−1.0</text>
<line x1="628.3" y1="593.55" x2="641.0999999999999" y2="593.55" stroke="#444" stroke-width="1.2"/>
<line x1="678.7" y1="593.55" x2="691.5" y2="593.55" stroke="#444" stroke-width="1.2"/>
<text transform="translate(724.38,605.47) scale(1,1.02)" font-size="33.0">−1.5</text>
<line x1="628.3" y1="619.93" x2="641.0999999999999" y2="619.93" stroke="#444" stroke-width="1.2"/>
<line x1="678.7" y1="619.93" x2="691.5" y2="619.93" stroke="#444" stroke-width="1.2"/>
<text transform="translate(724.38,631.85) scale(1,1.02)" font-size="33.0">−2.0</text>
<line x1="628.3" y1="646.32" x2="641.0999999999999" y2="646.32" stroke="#444" stroke-width="1.2"/>
<line x1="678.7" y1="646.32" x2="691.5" y2="646.32" stroke="#444" stroke-width="1.2"/>
<text transform="translate(724.38,658.23) scale(1,1.02)" font-size="33.0">−2.5</text>
<line x1="628.3" y1="672.70" x2="641.0999999999999" y2="672.70" stroke="#444" stroke-width="1.2"/>
<line x1="678.7" y1="672.70" x2="691.5" y2="672.70" stroke="#444" stroke-width="1.2"/>
<text transform="translate(724.38,684.62) scale(1,1.02)" font-size="33.0">−3.0</text>
<g transform="translate(206.40,1738.88) rotate(-90)"><text transform="scale(1.013,1.04)" font-size="35.0">0</text><circle cx="25.92" cy="-24.25" r="3.0" fill="none" stroke="#000" stroke-width="1.15"/><text transform="translate(31.27,0) scale(1.013,1.04)" font-size="35.0">C Ca(ClO</text><text transform="translate(184.91,11.9) scale(1.013,1.04)" font-size="21.0">4</text><text transform="translate(198.04,0) scale(1.013,1.04)" font-size="35.0">)</text><text transform="translate(208.05,11.9) scale(1.013,1.04)" font-size="21.0">2</text></g>
<g transform="translate(957.00,1732.88) rotate(-90)"><text transform="scale(1.013,1.04)" font-size="35.0">0</text><circle cx="25.92" cy="-24.25" r="3.0" fill="none" stroke="#000" stroke-width="1.15"/><text transform="translate(31.27,0) scale(1.013,1.04)" font-size="35.0">C Ca(ClO</text><text transform="translate(184.91,11.9) scale(1.013,1.04)" font-size="21.0">4</text><text transform="translate(198.04,0) scale(1.013,1.04)" font-size="35.0">)</text><text transform="translate(208.05,11.9) scale(1.013,1.04)" font-size="21.0">2</text></g>
<g transform="translate(255.70,1737.18) rotate(-90)"><text transform="scale(1.013,1.04)" font-size="35.0">0</text><circle cx="25.92" cy="-24.25" r="3.0" fill="none" stroke="#000" stroke-width="1.15"/><text transform="translate(31.27,0) scale(1.013,1.04)" font-size="35.0">C Mg(ClO</text><text transform="translate(188.84,11.9) scale(1.013,1.04)" font-size="21.0">4</text><text transform="translate(201.97,0) scale(1.013,1.04)" font-size="35.0">)</text><text transform="translate(211.98,11.9) scale(1.013,1.04)" font-size="21.0">2</text></g>
<g transform="translate(1033.10,1731.28) rotate(-90)"><text transform="scale(1.013,1.04)" font-size="35.0">0</text><circle cx="25.92" cy="-24.25" r="3.0" fill="none" stroke="#000" stroke-width="1.15"/><text transform="translate(31.27,0) scale(1.013,1.04)" font-size="35.0">C Mg(ClO</text><text transform="translate(188.84,11.9) scale(1.013,1.04)" font-size="21.0">4</text><text transform="translate(201.97,0) scale(1.013,1.04)" font-size="35.0">)</text><text transform="translate(211.98,11.9) scale(1.013,1.04)" font-size="21.0">2</text></g>
<g transform="translate(308.40,1732.28) rotate(-90)"><text transform="scale(1.013,1.04)" font-size="35.0">0</text><circle cx="25.92" cy="-24.25" r="3.0" fill="none" stroke="#000" stroke-width="1.15"/><text transform="translate(31.27,0) scale(1.013,1.04)" font-size="35.0">C Na(ClO</text><text transform="translate(184.91,11.9) scale(1.013,1.04)" font-size="21.0">4</text><text transform="translate(198.04,0) scale(1.013,1.04)" font-size="35.0">)</text></g>
<g transform="translate(1103.50,1725.08) rotate(-90)"><text transform="scale(1.013,1.04)" font-size="35.0">0</text><circle cx="25.92" cy="-24.25" r="3.0" fill="none" stroke="#000" stroke-width="1.15"/><text transform="translate(31.27,0) scale(1.013,1.04)" font-size="35.0">C Na(ClO</text><text transform="translate(184.91,11.9) scale(1.013,1.04)" font-size="21.0">4</text><text transform="translate(198.04,0) scale(1.013,1.04)" font-size="35.0">)</text></g>
<g transform="translate(363.80,1713.68) rotate(-90)"><text transform="scale(1.013,1.04)" font-size="35.0">0</text><circle cx="25.92" cy="-24.25" r="3.0" fill="none" stroke="#000" stroke-width="1.15"/><text transform="translate(31.27,0) scale(1.013,1.04)" font-size="35.0">C Control</text></g>
<g transform="translate(1165.20,1707.08) rotate(-90)"><text transform="scale(1.013,1.04)" font-size="35.0">0</text><circle cx="25.92" cy="-24.25" r="3.0" fill="none" stroke="#000" stroke-width="1.15"/><text transform="translate(31.27,0) scale(1.013,1.04)" font-size="35.0">C Control</text></g>
<g transform="translate(412.00,1755.65) rotate(-90)"><text transform="scale(1.013,1.04)" font-size="35.0">30</text><circle cx="45.64" cy="-24.25" r="3.0" fill="none" stroke="#000" stroke-width="1.15"/><text transform="translate(50.99,0) scale(1.013,1.04)" font-size="35.0">C Ca(ClO</text><text transform="translate(204.63,11.9) scale(1.013,1.04)" font-size="21.0">4</text><text transform="translate(217.76,0) scale(1.013,1.04)" font-size="35.0">)</text><text transform="translate(227.77,11.9) scale(1.013,1.04)" font-size="21.0">2</text></g>
<g transform="translate(1231.70,1750.85) rotate(-90)"><text transform="scale(1.013,1.04)" font-size="35.0">30</text><circle cx="45.64" cy="-24.25" r="3.0" fill="none" stroke="#000" stroke-width="1.15"/><text transform="translate(50.99,0) scale(1.013,1.04)" font-size="35.0">C Ca(ClO</text><text transform="translate(204.63,11.9) scale(1.013,1.04)" font-size="21.0">4</text><text transform="translate(217.76,0) scale(1.013,1.04)" font-size="35.0">)</text><text transform="translate(227.77,11.9) scale(1.013,1.04)" font-size="21.0">2</text></g>
<g transform="translate(463.60,1760.55) rotate(-90)"><text transform="scale(1.013,1.04)" font-size="35.0">30</text><circle cx="45.64" cy="-24.25" r="3.0" fill="none" stroke="#000" stroke-width="1.15"/><text transform="translate(50.99,0) scale(1.013,1.04)" font-size="35.0">C Mg(ClO</text><text transform="translate(208.56,11.9) scale(1.013,1.04)" font-size="21.0">4</text><text transform="translate(221.69,0) scale(1.013,1.04)" font-size="35.0">)</text><text transform="translate(231.70,11.9) scale(1.013,1.04)" font-size="21.0">2</text></g>
<g transform="translate(1301.10,1754.15) rotate(-90)"><text transform="scale(1.013,1.04)" font-size="35.0">30</text><circle cx="45.64" cy="-24.25" r="3.0" fill="none" stroke="#000" stroke-width="1.15"/><text transform="translate(50.99,0) scale(1.013,1.04)" font-size="35.0">C Mg(ClO</text><text transform="translate(208.56,11.9) scale(1.013,1.04)" font-size="21.0">4</text><text transform="translate(221.69,0) scale(1.013,1.04)" font-size="35.0">)</text><text transform="translate(231.70,11.9) scale(1.013,1.04)" font-size="21.0">2</text></g>
<g transform="translate(514.90,1756.85) rotate(-90)"><text transform="scale(1.013,1.04)" font-size="35.0">30</text><circle cx="45.64" cy="-24.25" r="3.0" fill="none" stroke="#000" stroke-width="1.15"/><text transform="translate(50.99,0) scale(1.013,1.04)" font-size="35.0">C Na(ClO</text><text transform="translate(204.63,11.9) scale(1.013,1.04)" font-size="21.0">4</text><text transform="translate(217.76,0) scale(1.013,1.04)" font-size="35.0">)</text></g>
<g transform="translate(1367.10,1751.85) rotate(-90)"><text transform="scale(1.013,1.04)" font-size="35.0">30</text><circle cx="45.64" cy="-24.25" r="3.0" fill="none" stroke="#000" stroke-width="1.15"/><text transform="translate(50.99,0) scale(1.013,1.04)" font-size="35.0">C Na(ClO</text><text transform="translate(204.63,11.9) scale(1.013,1.04)" font-size="21.0">4</text><text transform="translate(217.76,0) scale(1.013,1.04)" font-size="35.0">)</text></g>
</svg></body></html>
